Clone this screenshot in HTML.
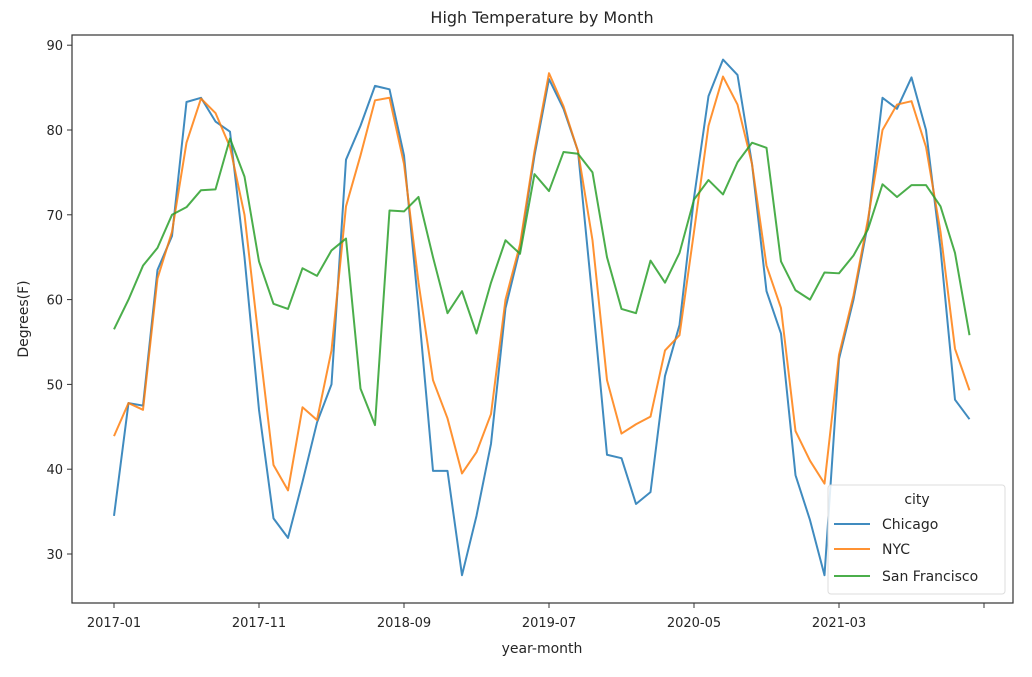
<!DOCTYPE html>
<html><head><meta charset="utf-8"><style>
body{margin:0;background:#fff;font-family:"Liberation Sans","DejaVu Sans",sans-serif;}
svg text{font-family:"DejaVu Sans","Liberation Sans",sans-serif;fill:#262626;}
</style></head><body>
<svg id="chart" width="1032" height="672" viewBox="0 0 1032 672" xmlns="http://www.w3.org/2000/svg">
<rect width="1032" height="672" fill="#fff"/>
<text x="542" y="23" font-size="16" text-anchor="middle">High Temperature by Month</text>
<g id="axes"></g>
<g id="lines"></g>
<rect x="72" y="35" width="941" height="568" fill="none" stroke="#333" stroke-width="1.2"/>
<text transform="translate(28,319) rotate(-90)" font-size="14" text-anchor="middle">Degrees(F)</text>
<text x="542" y="653" font-size="14" text-anchor="middle">year-month</text>
<g>
<rect x="828" y="485" width="177" height="109" rx="3" fill="#fff" fill-opacity="0.85" stroke="#ddd"/>
<text x="917" y="504" font-size="14" text-anchor="middle">city</text>
<g><line x1="834" y1="524" x2="870" y2="524" stroke="#1f77b4" stroke-opacity="0.85" stroke-width="2"/><text x="882" y="529" font-size="14">Chicago</text></g>
<g><line x1="834" y1="549" x2="870" y2="549" stroke="#ff7f0e" stroke-opacity="0.85" stroke-width="2"/><text x="882" y="554" font-size="14">NYC</text></g>
<g><line x1="834" y1="576" x2="870" y2="576" stroke="#2ca02c" stroke-opacity="0.85" stroke-width="2"/><text x="882" y="581" font-size="14">San Francisco</text></g>
</g>
</svg>
<script>
const chicago=[34.5,47.8,47.5,63.5,67.5,83.3,83.8,81,79.8,65,47,34.2,31.9,38.5,45.5,50,76.5,80.5,85.2,84.8,77,59,39.8,39.8,27.5,34.5,43,59,66,77,86,82.5,77.5,60,41.7,41.3,35.9,37.3,51,57,72,84,88.3,86.5,76,61,56,39.3,34,27.5,53,60,69,83.8,82.5,86.2,80,66,48.2,45.9];
const nyc=[43.9,47.8,47,62.5,68,78.5,83.7,82,78,70,55,40.5,37.5,47.3,45.8,54,71,77,83.5,83.8,76,62,50.5,46,39.5,42,46.5,60,66.5,77.5,86.7,82.8,77.5,67,50.5,44.2,45.3,46.2,54,55.8,68,80.5,86.3,83,76,64,59,44.5,41,38.3,53.5,60.5,69.5,80,83,83.4,78,68,54.2,49.3];
const sf=[56.5,60,64,66.1,70,70.9,72.9,73,79,74.5,64.5,59.5,58.9,63.7,62.8,65.8,67.2,49.5,45.2,70.5,70.4,72.1,65,58.4,61,56,62,67,65.4,74.8,72.8,77.4,77.2,75,65,58.9,58.4,64.6,62,65.5,71.8,74.1,72.4,76.2,78.5,77.9,64.5,61.1,60,63.2,63.1,65.2,68.3,73.6,72.1,73.5,73.5,71,65.5,55.8];
const yTicks=[30,40,50,60,70,80,90];
const xTickLabels=["2017-01","2017-11","2018-09","2019-07","2020-05","2021-03",""];
const xTickIdx=[0,10,20,30,40,50,60];
const NS="http://www.w3.org/2000/svg";
const xs=i=>114+i*14.5;
const ys=v=>554-(v-30)*8.48;
const axes=document.getElementById('axes');
function mk(tag,attrs,parent){const e=document.createElementNS(NS,tag);for(const k in attrs)e.setAttribute(k,attrs[k]);parent.appendChild(e);return e;}
yTicks.forEach(v=>{
  const g=mk('g',{},axes);
  
  
  mk('line',{x1:67,x2:72,y1:ys(v),y2:ys(v),stroke:'#333'},g);
  const t=mk('text',{x:63,y:ys(v)+5,'font-size':13,'text-anchor':'end'},g);t.textContent=v;
});
xTickIdx.forEach((idx,k)=>{
  const g=mk('g',{},axes);
  
  
  mk('line',{x1:xs(idx),x2:xs(idx),y1:603,y2:608,stroke:'#333'},g);
  const t=mk('text',{x:xs(idx),y:627,'font-size':13,'text-anchor':'middle'},g);t.textContent=xTickLabels[k];
});
const lines=document.getElementById('lines');
[[chicago,'#1f77b4','chicago-line'],[nyc,'#ff7f0e','nyc-line'],[sf,'#2ca02c','san-francisco-line']].forEach(([d,c,n])=>{
  const p=mk('polyline',{points:d.map((v,i)=>xs(i)+','+ys(v)).join(' '),fill:'none',stroke:c,'stroke-opacity':0.85,'stroke-width':2,'stroke-linejoin':'round'},lines);
  
  
});
</script>
</body></html>
